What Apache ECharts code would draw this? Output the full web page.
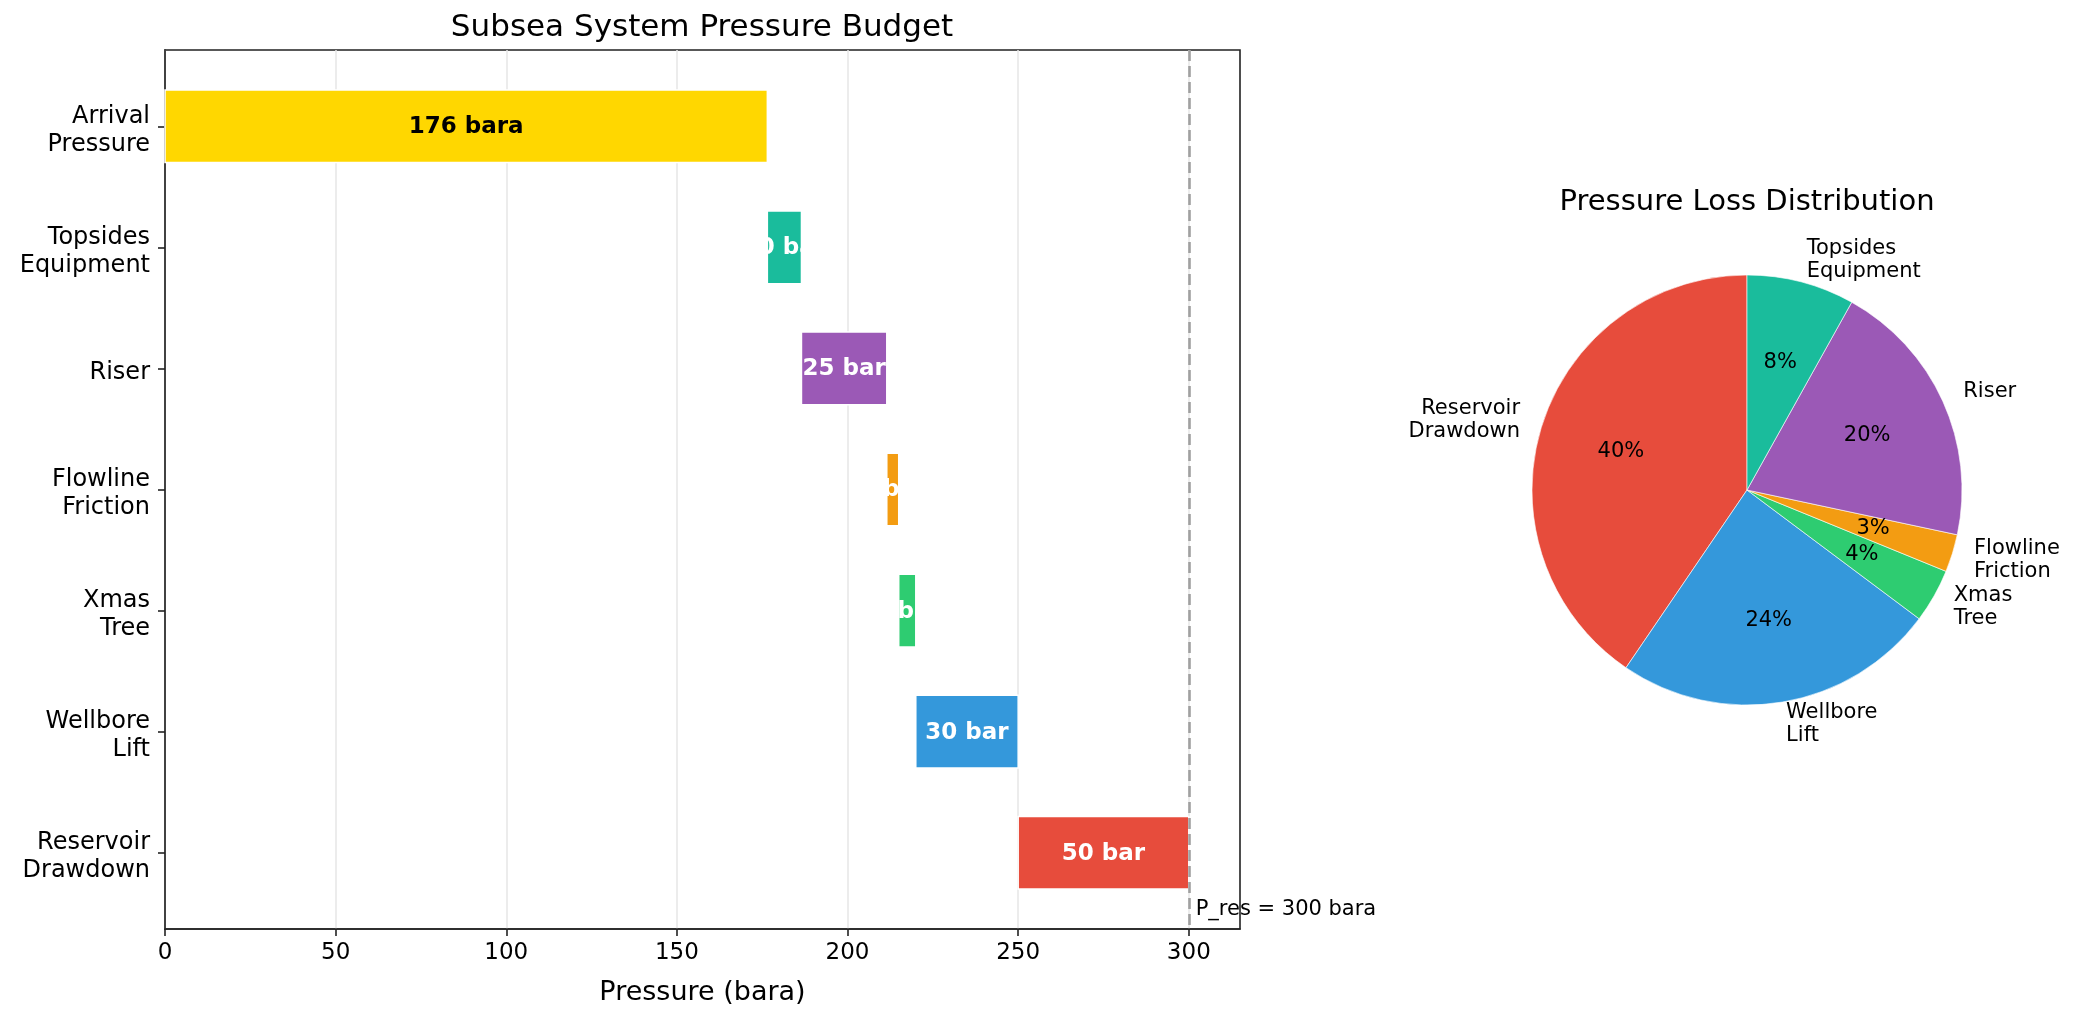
<!DOCTYPE html>
<html>
<head>
<meta charset="utf-8">
<script src="https://cdn.jsdelivr.net/npm/echarts@6/dist/echarts.min.js"></script>
<style>html,body{margin:0;padding:0;background:#fff}#c{width:2073px;height:1021px}</style>
</head>
<body>
<div id="c"></div>
<script>
// ---- data ----
const categories = ['Arrival\nPressure', 'Topsides\nEquipment', 'Riser', 'Flowline\nFriction', 'Xmas\nTree', 'Wellbore\nLift', 'Reservoir\nDrawdown'];
const barStart = [0, 176.5, 186.5, 211.5, 215, 220, 250];
const barValue = [176.5, 10, 25, 3.5, 5, 30, 50];
const barLabels = ['176 bara', '10 bar', '25 bar', '4 bar', '5 bar', '30 bar', '50 bar'];
const barColors = ['#FFD700', '#1ABC9C', '#9B59B6', '#F39C12', '#2ECC71', '#3498DB', '#E74C3C'];
const xTicks = [0, 50, 100, 150, 200, 250, 300];
const pRes = 300;
const pResLabel = 'P_res = 300 bara';

const pieNames = ['Reservoir\nDrawdown', 'Wellbore\nLift', 'Xmas\nTree', 'Flowline\nFriction', 'Riser', 'Topsides\nEquipment'];
const pieValues = [50, 30, 5, 3.5, 25, 10];
const pieColors = ['#E74C3C', '#3498DB', '#2ECC71', '#F39C12', '#9B59B6', '#1ABC9C'];

const FONT = 'DejaVu Sans';
const catIdx = categories.map((c, i) => i);
// tick labels sit a hair below the tick (text baseline centring)
const catLabelPos = catIdx.map(i => i + 0.036);
const barData = categories.map((c, i) => [barStart[i], barStart[i] + barValue[i], i]);

const chart = echarts.init(document.getElementById('c'), null, {renderer: 'canvas'});
const pieCenter = [1747, 490];
const pieR = 215;

const option = {
  animation: false,
  backgroundColor: '#fff',
  textStyle: {fontFamily: FONT},
  title: [
    {text: 'Subsea System Pressure Budget', left: 702, top: 12, textAlign: 'center', padding: 0,
     textStyle: {fontFamily: FONT, fontSize: 31, fontWeight: 'normal', color: '#000'}},
    {text: 'Pressure Loss Distribution', left: pieCenter[0], top: 188, textAlign: 'center', padding: 0,
     textStyle: {fontFamily: FONT, fontSize: 29, fontWeight: 'normal', color: '#000'}}
  ],
  grid: {left: 165, right: 833, top: 50, bottom: 92, show: true, borderColor: '#222', borderWidth: 1.6, containLabel: false},
  xAxis: {
    type: 'value', min: 0, max: 315,
    name: 'Pressure (bara)', nameLocation: 'middle', nameGap: 50,
    nameTextStyle: {fontFamily: FONT, fontSize: 27, color: '#000'},
    axisLine: {show: true, onZero: false, lineStyle: {color: '#222', width: 1.6}},
    axisTick: {show: true, customValues: xTicks, length: 7, lineStyle: {color: '#222', width: 1.6}},
    axisLabel: {customValues: xTicks, margin: 13, fontFamily: FONT, fontSize: 23, color: '#000'},
    splitLine: {show: true, lineStyle: {color: '#e6e6e6', width: 1.5}}
  },
  yAxis: {
    type: 'value', inverse: true, min: -0.63, max: 6.63,
    axisLine: {show: true, onZero: false, lineStyle: {color: '#222', width: 1.6}},
    axisTick: {show: true, customValues: catIdx, length: 7, lineStyle: {color: '#222', width: 1.6}},
    axisLabel: {customValues: catLabelPos, margin: 15, fontFamily: FONT, fontSize: 24, lineHeight: 28, color: '#000', align: 'right',
      formatter: v => categories[Math.round(v)]},
    splitLine: {show: false}
  },
  series: [
    {
      type: 'custom', xAxisIndex: 0, yAxisIndex: 0,
      encode: {x: [0, 1], y: 2},
      data: barData,
      renderItem: function (params, api) {
        const i = params.dataIndex;
        const p0 = api.coord([api.value(0), api.value(2)]);
        const p1 = api.coord([api.value(1), api.value(2)]);
        const h = api.size([0, 0.6])[1];
        return {
          type: 'group',
          children: [
            {type: 'rect', shape: {x: p0[0], y: p0[1] - h / 2, width: p1[0] - p0[0], height: h},
             style: {fill: barColors[i], stroke: '#fff', lineWidth: 1.5}},
            {type: 'text', z2: 10, style: {text: barLabels[i], x: (p0[0] + p1[0]) / 2, y: p0[1] + 1,
              align: 'center', verticalAlign: 'middle', fill: i === 0 ? '#000' : '#fff',
              font: 'bold 23px "' + FONT + '"'}}
          ]
        };
      },
      markLine: {
        silent: true, symbol: ['none', 'none'], label: {show: false},
        lineStyle: {type: [11, 5], color: '#a0a0a0', width: 2.6},
        data: [{xAxis: pRes}]
      },
      z: 2
    },
    {
      type: 'custom', xAxisIndex: 0, yAxisIndex: 0,
      data: [[pRes + 2, 6.47]],
      renderItem: function (params, api) {
        const p = api.coord([api.value(0), api.value(1)]);
        return {type: 'text', style: {text: pResLabel, x: p[0], y: p[1], align: 'left', verticalAlign: 'middle',
          fill: '#000', font: '21px "' + FONT + '"'}};
      },
      z: 5
    },
    {
      type: 'pie', center: pieCenter, radius: pieR, startAngle: 90, clockwise: false,
      avoidLabelOverlap: false, silent: true,
      labelLayout: {hideOverlap: false},
      itemStyle: {borderColor: '#fff', borderWidth: 0.6},
      label: {show: true, position: 'outside', fontFamily: FONT, fontSize: 21, lineHeight: 23, color: '#000',
        distanceToLabelLine: 0, bleedMargin: 0, overflow: 'none'},
      labelLine: {show: false, length: pieR * 0.1 + 1, length2: 0},
      emphasis: {disabled: true},
      data: pieNames.map((n, i) => ({name: n, value: pieValues[i], itemStyle: {color: pieColors[i]}}))
    },
    {
      type: 'pie', center: pieCenter, radius: pieR * 1.2, startAngle: 90, clockwise: false,
      avoidLabelOverlap: false, silent: true,
      labelLayout: {hideOverlap: false},
      itemStyle: {color: 'rgba(0,0,0,0)', borderWidth: 0},
      label: {show: true, position: 'inside', fontFamily: FONT, fontSize: 21, color: '#000',
        formatter: p => Math.round(p.percent) + '%'},
      labelLine: {show: false},
      emphasis: {disabled: true},
      data: pieNames.map((n, i) => ({name: n, value: pieValues[i]}))
    }
  ]
};
chart.setOption(option);
</script>
</body>
</html>
